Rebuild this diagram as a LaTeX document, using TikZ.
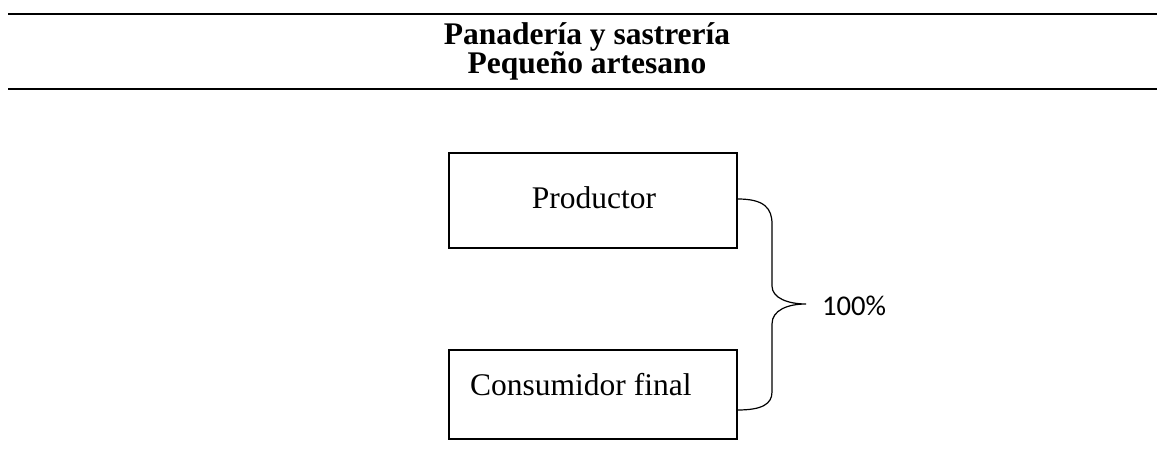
\documentclass[tikz,border=0pt]{standalone}
\usepackage{fontspec}
\setmainfont{Liberation Serif}
\newfontfamily\calibrifont{Carlito}
\usetikzlibrary{calc}
\begin{document}
\begin{tikzpicture}[x=1pt,y=-1pt,
  rule/.style={line width=2.2pt},
  box/.style={draw,line width=1.4pt,minimum width=288pt,minimum height=95pt,inner sep=0pt},
  titletxt/.style={font=\fontsize{31.5}{31.5}\selectfont\bfseries,inner sep=0pt},
  lbl/.style={font=\fontsize{31.5}{31.5}\selectfont,inner sep=0pt},
  pct/.style={font=\fontsize{28.6}{28.6}\calibrifont,inner sep=0pt},
  brace/.style={line width=1.2pt}]
\useasboundingbox (0,0) rectangle (1157,476);
\fill[white] (0,0) rectangle (1157,476);
% rules
\coordinate (r1a) at (8,14); \coordinate (r1b) at (1157,14);
\coordinate (r2a) at (8,89); \coordinate (r2b) at (1157,89);
\draw[rule] (r1a) -- (r1b);
\draw[rule] (r2a) -- (r2b);
% title
\node[titletxt,anchor=base] (title1) at (587,45) {Panadería y sastrería};
\node[titletxt,anchor=base] (title2) at (587,74) {Pequeño artesano};
% boxes
\node[box] (prod) at (593,200.5) {};
\node[box,minimum height=89pt] (cons) at (593,394.5) {};
\node[lbl,anchor=base] (prodtxt) at (594,208) {Productor};
\node[lbl,anchor=base west] (constxt) at (470,395) {Consumidor final};
% brace
\coordinate (bs) at ($(prod.east)+(0,-1.5)$);
\coordinate (be) at ($(cons.east)+(0,15.5)$);
\coordinate (tip) at (806,304);
\draw[brace] (bs) .. controls (764,199) and (772,208) .. (772,224) -- (772,286)
  .. controls (772,298) and (788,304) .. (tip)
  .. controls (788,304) and (772,310) .. (772,324) -- (772,392)
  .. controls (772,404) and (762,410) .. (be);
\node[pct,anchor=base west] (pctlbl) at (822,315) {100\%};
\end{tikzpicture}
\end{document}
